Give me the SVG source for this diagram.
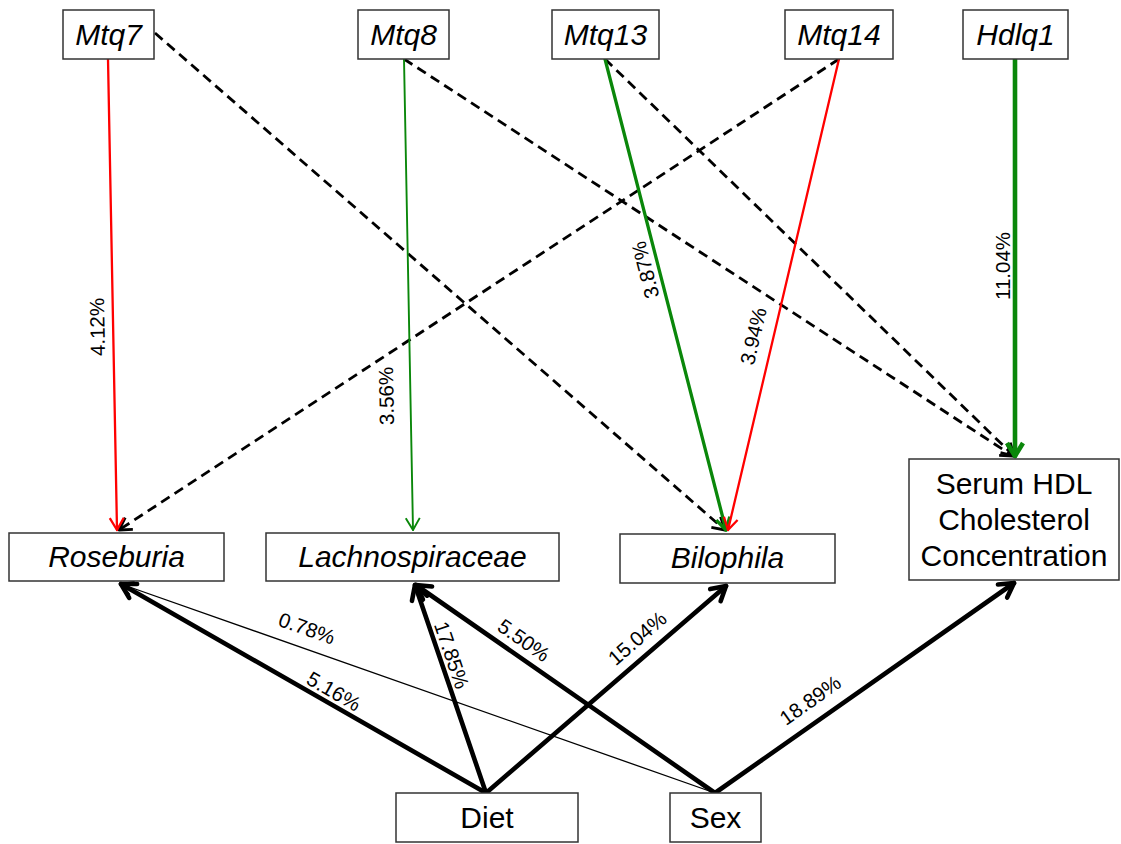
<svg xmlns="http://www.w3.org/2000/svg" width="1121" height="844" viewBox="0 0 1121 844">
<style>
.box{fill:#fff;stroke:#333;stroke-width:1.5}
.nt{font-family:"Liberation Sans",Arial,sans-serif;font-size:30px;text-anchor:middle;fill:#000}
.it{font-style:italic}
.el{font-family:"Liberation Sans",Arial,sans-serif;font-size:20.5px;text-anchor:middle;dominant-baseline:central;fill:#000}
.e{fill:none;stroke-linecap:round}
.dash{stroke:#000;stroke-width:2.8;stroke-dasharray:10 6;stroke-linecap:butt;marker-end:url(#ah-d)}
.red{stroke:#ff0000;stroke-width:2.3;marker-end:url(#ah-r)}
.grn{stroke:#0a870a;stroke-width:1.9;marker-end:url(#ah-g)}
.grn2{stroke:#0a870a;stroke-width:3.3;marker-end:url(#ah-g2)}
.grn3{stroke:#0a870a;stroke-width:4.6;marker-end:url(#ah-g3)}
.blk{stroke:#000;stroke-width:4.6;marker-end:url(#ah-k)}
.blk1{stroke:#000;stroke-width:1.3;marker-end:url(#ah-k1)}
</style>
<defs>
<marker id="ah-d" viewBox="-18 -12 22 24" refX="0" refY="0" markerWidth="22" markerHeight="24" markerUnits="userSpaceOnUse" orient="auto"><path d="M-12,-7 L0,0 L-12,7" fill="none" stroke="#000" stroke-width="2.8" stroke-linejoin="round"/></marker>
<marker id="ah-r" viewBox="-18 -12 22 24" refX="0" refY="0" markerWidth="22" markerHeight="24" markerUnits="userSpaceOnUse" orient="auto"><path d="M-12,-7 L0,0 L-12,7" fill="none" stroke="#ff0000" stroke-width="2.3" stroke-linejoin="round"/></marker>
<marker id="ah-g" viewBox="-18 -12 22 24" refX="0" refY="0" markerWidth="22" markerHeight="24" markerUnits="userSpaceOnUse" orient="auto"><path d="M-12,-7 L0,0 L-12,7" fill="none" stroke="#0a870a" stroke-width="1.9" stroke-linejoin="round"/></marker>
<marker id="ah-g2" viewBox="-18 -12 22 24" refX="0" refY="0" markerWidth="22" markerHeight="24" markerUnits="userSpaceOnUse" orient="auto"><path d="M-12,-7 L0,0 L-12,7" fill="none" stroke="#0a870a" stroke-width="3.3" stroke-linejoin="round"/></marker>
<marker id="ah-g3" viewBox="-20 -12 24 24" refX="0" refY="0" markerWidth="24" markerHeight="24" markerUnits="userSpaceOnUse" orient="auto"><path d="M-13,-8 L0,0 L-13,8" fill="none" stroke="#0a870a" stroke-width="4.6" stroke-linejoin="round"/></marker>
<marker id="ah-k" viewBox="-20 -12 24 24" refX="0" refY="0" markerWidth="24" markerHeight="24" markerUnits="userSpaceOnUse" orient="auto"><path d="M-14,-8 L0,0 L-14,8" fill="none" stroke="#000" stroke-width="4.6" stroke-linejoin="round" stroke-linecap="round"/></marker>
<marker id="ah-k1" viewBox="-18 -12 22 24" refX="0" refY="0" markerWidth="22" markerHeight="24" markerUnits="userSpaceOnUse" orient="auto"><path d="M-12,-7 L0,0 L-12,7" fill="none" stroke="#000" stroke-width="1.3"/></marker>
</defs>

<g id="connectors">
<line class="e dash" x1="155" y1="33" x2="725" y2="530"/>
<line class="e dash" x1="404" y1="59" x2="1013" y2="456"/>
<line class="e dash" x1="605" y1="59" x2="1014" y2="456"/>
<line class="e dash" x1="839" y1="59" x2="119" y2="530"/>
<line class="e red" x1="108" y1="59" x2="117" y2="530"/>
<line class="e grn" x1="404" y1="59" x2="413" y2="530"/>
<line class="e grn2" x1="605" y1="59" x2="726" y2="530"/>
<line class="e red" x1="839" y1="59" x2="728" y2="530"/>
<line class="e grn3" x1="1015" y1="59" x2="1015" y2="456"/>
<line class="e blk1" x1="715" y1="793" x2="121" y2="584"/>
<line class="e blk" x1="486" y1="793" x2="121" y2="584"/>
<line class="e blk" x1="486" y1="793" x2="415" y2="585"/>
<line class="e blk" x1="715" y1="793" x2="416" y2="585"/>
<line class="e blk" x1="486" y1="793" x2="726" y2="586"/>
<line class="e blk" x1="715" y1="793" x2="1014" y2="583"/>
<text class="el" transform="translate(97,327) rotate(-91)">4.12%</text>
<text class="el" transform="translate(386,396) rotate(-91)">3.56%</text>
<text class="el" transform="translate(645,270) rotate(-104.5)">3.87%</text>
<text class="el" transform="translate(753,336) rotate(-76.8)">3.94%</text>
<text class="el" transform="translate(1002,266) rotate(-90)">11.04%</text>
<text class="el" transform="translate(307,628) rotate(19.4)">0.78%</text>
<text class="el" transform="translate(334,691) rotate(29.8)">5.16%</text>
<text class="el" transform="translate(452,655) rotate(71.3)">17.85%</text>
<text class="el" transform="translate(524,640) rotate(35)">5.50%</text>
<text class="el" transform="translate(637,638) rotate(-41.2)">15.04%</text>
<text class="el" transform="translate(810,700) rotate(-35.3)">18.89%</text>
</g>

<g id="mtq7"><rect class="box" x="63" y="10" width="91" height="49"/><text class="nt it" x="108.5" y="45">Mtq7</text></g>
<g id="mtq8"><rect class="box" x="358" y="10" width="91" height="49"/><text class="nt it" x="403.5" y="45">Mtq8</text></g>
<g id="mtq13"><rect class="box" x="552" y="10" width="107" height="49"/><text class="nt it" x="605.5" y="45">Mtq13</text></g>
<g id="mtq14"><rect class="box" x="785" y="10" width="108" height="49"/><text class="nt it" x="839" y="45">Mtq14</text></g>
<g id="hdlq1"><rect class="box" x="963" y="10" width="105" height="49"/><text class="nt it" x="1015.5" y="45">Hdlq1</text></g>

<g id="roseburia"><rect class="box" x="9" y="533" width="215" height="48"/><text class="nt it" x="116.5" y="567">Roseburia</text></g>
<g id="lachnospiraceae"><rect class="box" x="266" y="533" width="293" height="48"/><text class="nt it" x="412.5" y="567">Lachnospiraceae</text></g>
<g id="bilophila"><rect class="box" x="620" y="534" width="215" height="49"/><text class="nt it" x="727.5" y="568">Bilophila</text></g>
<g id="serum"><rect class="box" x="909" y="459" width="210" height="121"/><text class="nt" x="1014" y="494">Serum HDL</text><text class="nt" x="1014" y="530">Cholesterol</text><text class="nt" x="1014" y="566">Concentration</text></g>

<g id="diet"><rect class="box" x="396" y="793" width="182" height="49"/><text class="nt" x="487" y="828">Diet</text></g>
<g id="sex"><rect class="box" x="670" y="793" width="91" height="49"/><text class="nt" x="715.5" y="828">Sex</text></g>
</svg>
